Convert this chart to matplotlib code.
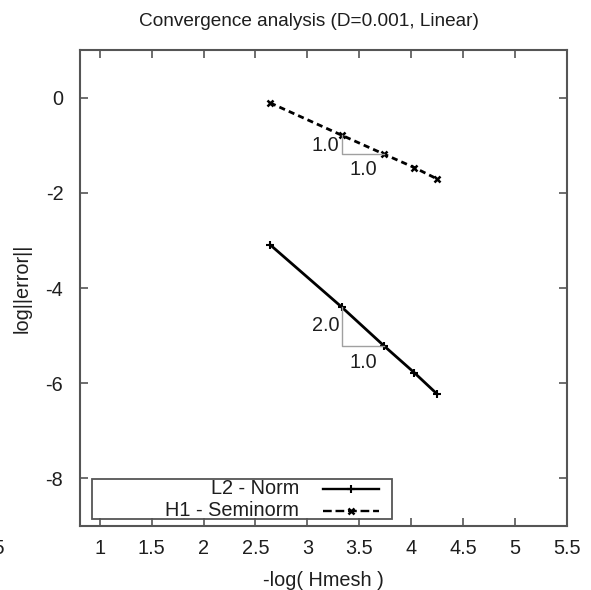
import matplotlib
matplotlib.use("Agg")
import matplotlib.pyplot as plt
from matplotlib.patches import Rectangle

# Data
x_vals = [2.64, 3.33, 3.74, 4.03, 4.25]
l2_vals = [-3.09, -4.40, -5.22, -5.78, -6.23]
h1_vals = [-0.11, -0.79, -1.19, -1.47, -1.71]
series_labels = ["L2 - Norm", "H1 - Seminorm"]
x_ticks = [1, 1.5, 2, 2.5, 3, 3.5, 4, 4.5, 5, 5.5]
x_ticklabels = ["1", "1.5", "2", "2.5", "3", "3.5", "4", "4.5", "5", "5.5"]
y_ticks = [-8, -6, -4, -2, 0]
y_ticklabels = ["-8", "-6", "-4", "-2", "0"]
slope_labels_h1 = ["1.0", "1.0"]
slope_labels_l2 = ["2.0", "1.0"]

plt.rcParams['font.family'] = ['Liberation Sans', 'DejaVu Sans']

W, H = 591, 590
fig = plt.figure(figsize=(W / 100, H / 100), dpi=100)
ax = fig.add_axes([80/W, 64/H, 487/W, 476/H])

txt_c = '#1e1e1e'
spine_c = "#555555"
for s in ax.spines.values():
    s.set_color(spine_c)
    s.set_linewidth(1.5)

fs = 14.3
ax.set_xlim(0.81, 5.49)
ax.set_ylim(-9, 1)
ax.set_xticks(x_ticks)
ax.set_xticklabels(x_ticklabels)
ax.set_yticks(y_ticks)
ax.set_yticklabels(y_ticklabels)
ax.tick_params(direction='in', length=6, width=1.2, color=spine_c,
               top=True, right=True, labelsize=fs, labelcolor=txt_c)
ax.tick_params(axis='x', pad=9)
ax.tick_params(axis='y', pad=12)

# series
l2_line, = ax.plot(x_vals, l2_vals, color='black', lw=2, marker='+', ms=6, mew=1.5)
h1_line, = ax.plot(x_vals, h1_vals, color='black', lw=2, ls=(0, (2.2, 1.5)),
                   marker='x', ms=5, mew=1.8)

# slope triangles
tri_c = "#a0a0a0"
ax.plot([x_vals[1], x_vals[1], x_vals[2]], [h1_vals[1], h1_vals[2], h1_vals[2]],
        color=tri_c, lw=1)
ax.plot([x_vals[1], x_vals[1], x_vals[2]], [l2_vals[1], l2_vals[2], l2_vals[2]],
        color=tri_c, lw=1)
ax.text(x_vals[1] - 0.02, (h1_vals[1] + h1_vals[2]) / 2 - 0.02, slope_labels_h1[0],
        ha='right', va='center', fontsize=fs, color=txt_c)
ax.text((x_vals[1] + x_vals[2]) / 2, h1_vals[2] - 0.33, slope_labels_h1[1],
        ha='center', va='center', fontsize=fs, color=txt_c)
ax.text(x_vals[1] - 0.02, (l2_vals[1] + l2_vals[2]) / 2 + 0.02, slope_labels_l2[0],
        ha='right', va='center', fontsize=fs, color=txt_c)
ax.text((x_vals[1] + x_vals[2]) / 2, l2_vals[2] - 0.35, slope_labels_l2[1],
        ha='center', va='center', fontsize=fs, color=txt_c)

# manual legend (gnuplot style)
tr = ax.transAxes
def fx(px):
    return (px - 80) / 487
def fy(py):
    return (526 - py) / 476
ax.add_patch(Rectangle((fx(92.3), fy(519.3)), fx(391.7) - fx(92.3), fy(479) - fy(519.3),
                       transform=tr, fill=False, edgecolor=spine_c, lw=1.3, zorder=5))
rows = [489, 510.5]
for lab, line, py in zip(series_labels, [l2_line, h1_line], rows):
    ax.text(fx(299), fy(py), lab, transform=tr, ha='right', va='center',
            fontsize=fs, color=txt_c, zorder=6)
    ax.plot([fx(323), fx(379)], [fy(py), fy(py)], transform=tr, color='black',
            lw=line.get_linewidth() * 0.85, ls=line.get_linestyle(), zorder=6)
    ax.plot([fx(351)], [fy(py)], transform=tr, color='black', marker=line.get_marker(),
            ms=line.get_markersize(), mew=line.get_markeredgewidth(), zorder=6)

fig.text(309/W, 1 - 21/H, "Convergence analysis (D=0.001, Linear)", fontsize=13.7,
         ha='center', va='center', color=txt_c)
fig.text(323.5/W, 1 - 580/H, "-log( Hmesh )", fontsize=fs,
         ha='center', va='center', color=txt_c)
fig.text(22.5/W, 1 - 288/H, "log||error||", fontsize=fs, rotation=90,
         ha='center', va='center', color=txt_c)

# cropped-off tick label at the far left edge
fig.text(4.5/W, 1 - 548/H, "0.5", ha='right', va='center', fontsize=fs, color=txt_c)

fig.savefig("out.png", dpi=100)
